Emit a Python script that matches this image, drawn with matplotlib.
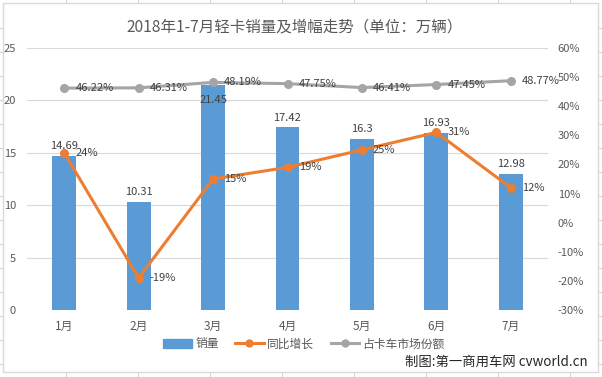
import matplotlib
matplotlib.use("Agg")
import matplotlib.pyplot as plt
from matplotlib.patches import Rectangle, Patch
from matplotlib.lines import Line2D
import numpy as np

plt.rcParams['font.family'] = ['Noto Sans CJK SC', 'DejaVu Sans']

months = ["1月", "2月", "3月", "4月", "5月", "6月", "7月"]
sales = [14.69, 10.31, 21.45, 17.42, 16.3, 16.93, 12.98]
growth = [24, -19, 15, 19, 25, 31, 12]
share = [46.22, 46.31, 48.19, 47.75, 46.41, 47.45, 48.77]
share_labels = ["46.22%", "46.31%", "48.19%", "47.75%", "46.41%", "47.45%", "48.77%"]
sales_labels = ["14.69", "10.31", "21.45", "17.42", "16.3", "16.93", "12.98"]
left_ticks = [0, 5, 10, 15, 20, 25]
right_ticks = [-30, -20, -10, 0, 10, 20, 30, 40, 50, 60]

title = "2018年1-7月轻卡销量及增幅走势（单位：万辆）"
legend_names = ["销量", "同比增长", "占卡车市场份额"]
watermark = "制图:第一商用车网 cvworld.cn"

W, H = 602, 377
fig = plt.figure(figsize=(W / 100, H / 100), dpi=100)
fig.patch.set_facecolor("white")

# Excel cell grid stubs outside the chart
gc = "#D4D4D4"
for x in [66, 138, 210, 282, 354, 426, 498, 570]:
    fig.add_artist(Line2D([x / W, x / W], [1, 1 - 3 / H], color=gc, lw=0.8))
    fig.add_artist(Line2D([x / W, x / W], [0, 5 / H], color=gc, lw=0.8))
for y in range(28, 370, 24):
    fig.add_artist(Line2D([0, 3 / W], [1 - y / H, 1 - y / H], color=gc, lw=0.8))
    fig.add_artist(Line2D([598 / W, 1], [1 - y / H, 1 - y / H], color=gc, lw=0.8))
# chart border
fig.add_artist(Rectangle((2.5 / W, 1 - 372 / H), 595.5 / W, 369.5 / H,
                         transform=fig.transFigure, fill=False, ec="#D9D9D9", lw=1))

txt = "#595959"
lab_c = "#404040"
num_fs = 8
cjk_fs = 8.5
ax = fig.add_axes([27 / W, 1 - 310 / H, 521 / W, 262 / H])
x = np.arange(len(months))
ax.bar(x, sales, width=0.32, color="#5B9BD5", zorder=2)
ax.set_xlim(-0.5, len(months) - 0.5)
ax.set_ylim(0, 25)
ax.set_yticks(left_ticks)
ax.yaxis.grid(True, color="#D9D9D9", lw=0.8, zorder=0)
ax.set_axisbelow(True)
for s in ax.spines.values():
    s.set_visible(False)
ax.tick_params(length=0, colors=txt, labelsize=num_fs)
ax.tick_params(axis='y', pad=8)
ax.tick_params(axis='x', pad=7, labelsize=cjk_fs)
ax.set_xticks(x)
ax.set_xticklabels(months)
for xi, v, lab in zip(x, sales, sales_labels):
    if v > 20:
        # label would collide with the share line: Excel pushes it into the bar top
        ax.annotate(lab, (xi, v), xytext=(0, -7), textcoords="offset points",
                    ha="center", va="top", fontsize=num_fs, color=lab_c, zorder=5)
    else:
        ax.annotate(lab, (xi, v), xytext=(0, 3.5), textcoords="offset points",
                    ha="center", va="bottom", fontsize=num_fs, color=lab_c, zorder=5)

ax2 = ax.twinx()
ax2.set_ylim(-30, 60)
ax2.set_yticks(right_ticks)
ax2.set_yticklabels([f"{t}%" for t in right_ticks])
for s in ax2.spines.values():
    s.set_visible(False)
ax2.tick_params(length=0, colors=txt, labelsize=num_fs, pad=7)
ax2.plot(x, growth, color="#ED7D31", lw=2.2, marker="o", ms=5.5, zorder=4)
ax2.plot(x, share, color="#A5A5A5", lw=2.2, marker="o", ms=5.5, zorder=4)
for xi, v in zip(x, growth):
    ax2.annotate(f"{v}%", (xi, v), xytext=(8, 0), textcoords="offset points",
                 ha="left", va="center", fontsize=num_fs, color=lab_c, zorder=6)
for xi, v, lab in zip(x, share, share_labels):
    ax2.annotate(lab, (xi, v), xytext=(8, 0), textcoords="offset points",
                 ha="left", va="center", fontsize=num_fs, color=lab_c, zorder=6)

fig.text(295 / W, 1 - 27 / H, title, ha="center", va="center", fontsize=11.2, color=txt)

handles = [Patch(color="#5B9BD5"),
           Line2D([], [], color="#ED7D31", lw=2.2, marker="o", ms=5),
           Line2D([], [], color="#A5A5A5", lw=2.2, marker="o", ms=5)]
fig.legend(handles, legend_names, loc="center", bbox_to_anchor=(304 / W, 1 - 344 / H),
           ncol=3, frameon=False, fontsize=cjk_fs, labelcolor=txt, handlelength=2.4,
           handletextpad=0.3, columnspacing=1.4)

fig.text(588 / W, 1 - 362 / H, watermark, ha="right", va="center", fontsize=9.6, color="#262626")

fig.savefig("out.png", dpi=100)
